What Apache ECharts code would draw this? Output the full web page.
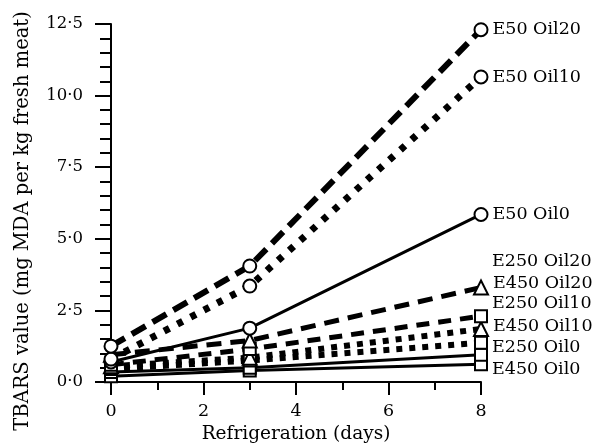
<!DOCTYPE html>
<html>
<head>
<meta charset="utf-8">
<script src="https://cdn.jsdelivr.net/npm/echarts@6/dist/echarts.min.js"></script>
<style>
  html, body { margin: 0; padding: 0; background: #fff; }
  #chart { width: 593px; height: 448px; }
</style>
</head>
<body>
<div id="chart"></div>
<script>
// refrigeration days
var days = [0, 3, 8];

// TBARS values per treatment
var e50oil20 = [1.25, 4.05, 12.3];
var e50oil10 = [0.8, 3.35, 10.65];
var e50oil0 = [0.7, 1.88, 5.85];
var e450oil20 = [0.95, 1.45, 3.3];
var e250oil20 = [0.6, 1.15, 2.3];
var e450oil10 = [0.55, 0.85, 1.85];
var e250oil10 = [0.45, 0.75, 1.37];
var e250oil0 = [0.35, 0.5, 0.95];
var e450oil0 = [0.2, 0.4, 0.62];

var yTicks = ['0·0', '2·5', '5·0', '7·5', '10·0', '12·5'];

var FONT = 'DejaVu Serif';

function mkSeries(name, vals, dash, width, symbol, symSize, dy) {
    var data = [];
    for (var i = 0; i < vals.length; i++) {
        var d = { value: [days[i], vals[i]] };
        if (i == vals.length - 1) {
            d.label = {
                show: true,
                position: 'right',
                distance: 5,
                offset: [-1, dy],
                formatter: name,
                color: '#000',
                fontFamily: FONT,
                fontSize: 17.5
            };
        }
        data.push(d);
    }
    return {
        name: name,
        type: 'line',
        data: data,
        symbol: symbol,
        symbolSize: symSize,
        showAllSymbol: true,
        lineStyle: { color: '#000', width: width, type: dash, cap: 'butt' },
        itemStyle: { color: '#fff', borderColor: '#000', borderWidth: 2 },
        emphasis: { disabled: true },
        animation: false
    };
}

var option = {
    animation: false,
    grid: { left: 111, right: 112, top: 24, bottom: 66, containLabel: false, outerBoundsMode: 'none' },
    xAxis: {
        type: 'value',
        min: 0, max: 8, interval: 2,
        name: 'Refrigeration (days)',
        nameLocation: 'middle',
        nameGap: 32,
        nameTextStyle: { color: '#000', fontFamily: FONT, fontSize: 18.5 },
        axisLine: { lineStyle: { color: '#000', width: 2 } },
        axisTick: { length: 13, lineStyle: { color: '#000', width: 2 } },
        minorTick: { show: true, splitNumber: 2, length: 8, lineStyle: { color: '#000', width: 2 } },
        axisLabel: { margin: 20, color: '#000', fontFamily: FONT, fontSize: 17.5 },
        splitLine: { show: false }
    },
    yAxis: {
        type: 'value',
        min: 0, max: 12.5, interval: 2.5,
        name: 'TBARS value (mg MDA per kg fresh meat)',
        nameLocation: 'middle',
        nameGap: 78,
        nameTextStyle: { color: '#000', fontFamily: FONT, fontSize: 19.5, padding: [0, 36, 0, 0] },
        axisLine: { lineStyle: { color: '#000', width: 2 } },
        axisTick: { length: 16, lineStyle: { color: '#000', width: 2 } },
        minorTick: { show: true, splitNumber: 5, length: 11, lineStyle: { color: '#000', width: 2 } },
        axisLabel: {
            margin: 28, color: '#000', fontFamily: FONT, fontSize: 16.5,
            formatter: function (v) { return yTicks[Math.round(v / 2.5)]; }
        },
        splitLine: { show: false }
    },
    series: [
        mkSeries('E450 Oil0', e450oil0, 'solid', 3, 'rect', 12, 5),
        mkSeries('E250 Oil0', e250oil0, 'solid', 3, 'rect', 12, -7),
        mkSeries('E250 Oil10', e250oil10, [6, 7], 6, 'rect', 12, -39),
        mkSeries('E450 Oil10', e450oil10, [6, 7], 6, 'triangle', 14, -3),
        mkSeries('E250 Oil20', e250oil20, [13, 9], 5, 'rect', 12, -55),
        mkSeries('E450 Oil20', e450oil20, [15, 9], 5, 'triangle', 14, -4),
        mkSeries('E50 Oil0', e50oil0, 'solid', 3, 'circle', 13, 0),
        mkSeries('E50 Oil10', e50oil10, [6, 9], 7, 'circle', 13, 0),
        mkSeries('E50 Oil20', e50oil20, [16, 8], 6, 'circle', 13, 0)
    ]
};

var myChart = echarts.init(document.getElementById('chart'), null, { renderer: 'canvas' });
myChart.setOption(option);
</script>
</body>
</html>
